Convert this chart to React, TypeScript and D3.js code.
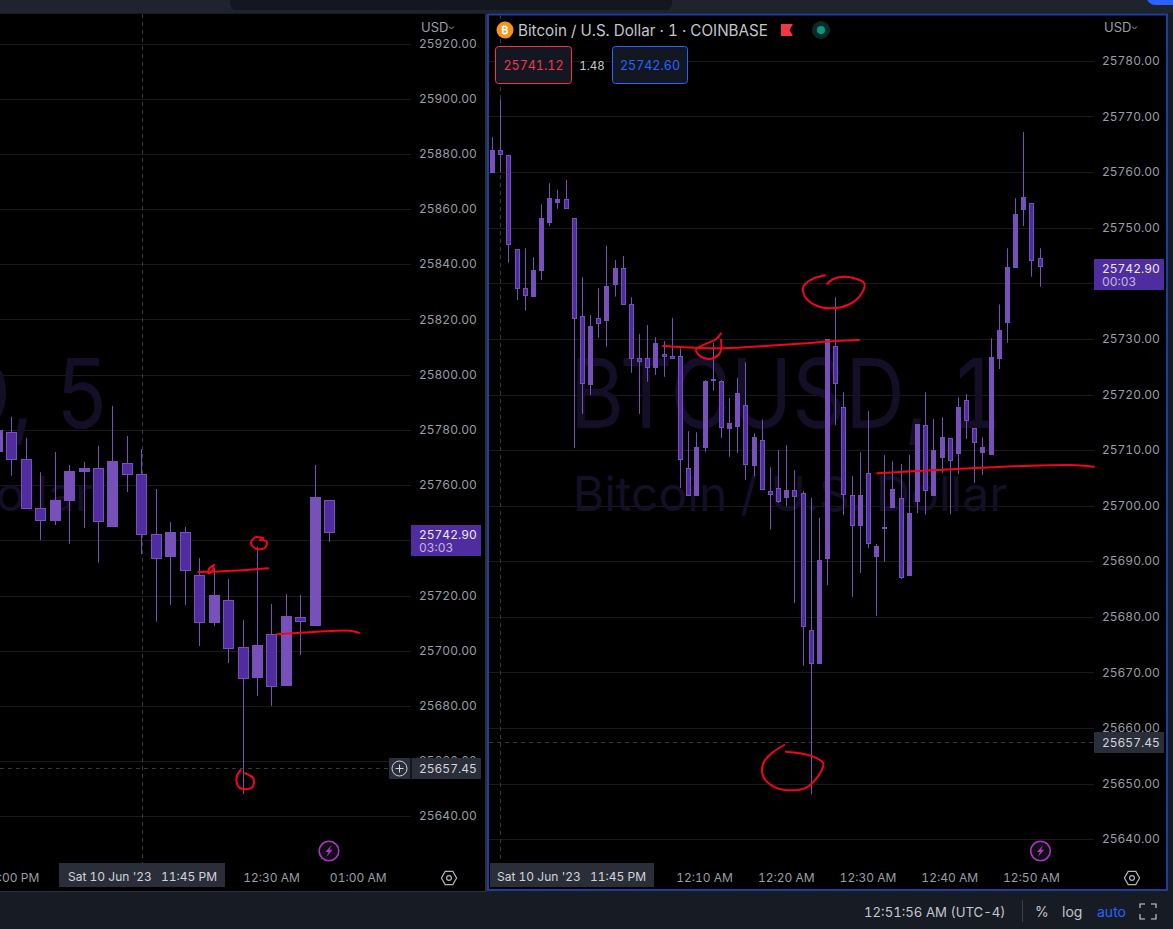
import React from "react";
import * as d3 from "d3";

// ---------- 1-minute pane ----------
const oneHigh = [25766.3,25773.1,25763.1,25746.1,25746.3,25744.7,25754.2,25758.0,25756.8,25758.6,25751.7,25741.1,25734.3,25739.1,25746.7,25744.2,25744.9,25737.5,25730.9,25732.5,25730.3,25729.6,25733.8,25728.3,25713.4,25713.2,25722.6,25729.3,25722.6,25719.4,25723.0,25725.8,25713.0,25715.5,25706.9,25710.0,25710.9,25706.4,25702.6,25701.4,25697.8,25730.0,25737.5,25720.4,25705.3,25709.6,25717.0,25693.1,25709.1,25708.0,25707.5,25709.1,25714.7,25720.4,25715.6,25715.9,25712.1,25719.5,25720.1,25713.9,25712.3,25730.1,25736.2,25746.3,25755.3,25767.2,25754.4,25746.3];
const oneOpen = [25759.9,25764.0,25763.1,25746.1,25739.1,25737.6,25742.3,25750.9,25754.5,25755.1,25751.7,25734.1,25721.7,25733.8,25733.3,25739.7,25742.7,25736.3,25726.5,25726.5,25724.8,25727.2,25726.9,25726.9,25706.8,25701.8,25710.4,25722.4,25722.5,25713.8,25714.2,25718.2,25707.2,25711.9,25702.7,25703.1,25701.3,25702.9,25702.3,25677.6,25671.5,25690.4,25728.8,25717.7,25702.0,25696.4,25705.8,25690.8,25695.9,25699.6,25701.3,25687.4,25700.7,25714.6,25701.8,25708.6,25712.1,25709.3,25719.1,25713.9,25709.5,25709.2,25726.4,25732.9,25742.8,25753.1,25754.4,25744.5];
const oneClose = [25764.0,25763.1,25746.9,25739.0,25737.8,25742.4,25751.7,25755.3,25755.1,25753.4,25733.5,25721.8,25732.3,25732.6,25739.5,25742.7,25736.1,25726.4,25725.9,25724.8,25729.2,25726.8,25726.4,25708.3,25701.8,25710.5,25722.4,25722.8,25713.9,25714.8,25720.2,25707.3,25712.3,25702.9,25701.9,25700.7,25702.9,25701.6,25678.1,25671.6,25690.2,25730.0,25721.9,25702.0,25696.4,25702.0,25693.2,25692.7,25696.2,25703.0,25687.0,25698.7,25714.7,25702.7,25710.0,25712.3,25708.1,25717.7,25715.3,25711.3,25710.5,25726.7,25731.6,25742.9,25752.4,25755.5,25744.0,25742.9];
const oneLow = [25759.9,25760.0,25743.7,25737.0,25735.1,25737.6,25740.6,25750.3,25753.4,25753.4,25710.4,25716.5,25719.9,25730.2,25728.6,25737.6,25736.1,25723.9,25716.5,25722.3,25723.5,25723.2,25726.4,25703.2,25701.8,25701.8,25709.7,25720.7,25712.2,25708.8,25709.5,25704.6,25705.3,25702.9,25695.7,25700.5,25699.9,25682.5,25671.2,25648.1,25671.5,25685.7,25714.5,25698.3,25683.6,25687.9,25692.4,25680.2,25689.9,25699.6,25686.8,25687.4,25698.7,25698.4,25701.8,25705.9,25698.5,25705.7,25712.0,25704.1,25705.5,25709.2,25724.6,25729.3,25742.8,25750.3,25741.2,25739.4];

const oneTicks = [25640,25650,25660,25670,25680,25690,25700,25710,25720,25730,25740,25750,25760,25770,25780];
const oneTimeLabels = ["12:10 AM","12:20 AM","12:30 AM","12:40 AM","12:50 AM"];
const oneTimeBars = [26,36,46,56,66];

// ---------- 5-minute pane ----------
const fiveHigh = [25783.6,25784.8,25777.1,25764.7,25772.0,25767.3,25768.4,25774.2,25788.7,25777.8,25773.0,25758.6,25746.6,25744.8,25733.6,25729.8,25726.0,25711.1,25737.6,25716.9,25720.5,25720.2,25767.3,25754.6];
const fiveOpen = [25772.0,25779.1,25769.3,25751.6,25747.1,25754.2,25764.7,25766.1,25744.8,25767.9,25763.9,25742.2,25734.0,25742.9,25727.3,25710.0,25718.3,25701.2,25690.1,25705.9,25687.2,25712.1,25709.0,25754.6];
const fiveClose = [25780.0,25769.2,25751.5,25747.1,25754.6,25765.1,25766.2,25746.8,25768.7,25763.8,25742.0,25733.3,25743.0,25729.0,25710.2,25720.2,25700.7,25689.9,25701.9,25687.0,25712.6,25710.5,25755.7,25742.8];
const fiveLow = [25772.0,25763.4,25751.5,25740.1,25745.5,25738.7,25744.5,25731.9,25744.8,25757.5,25735.0,25710.5,25716.6,25716.6,25701.7,25709.0,25695.5,25648.1,25683.6,25680.0,25687.2,25698.4,25709.0,25739.4];

const fiveTicks = [25640,25660,25680,25700,25720,25740,25760,25780,25800,25820,25840,25860,25880,25900,25920];
const fiveTimeLabels = ["11:00 PM","12:30 AM","01:00 AM"];
const fiveTimeBars = [1,19,25];

const lastPrice = 25742.9;
const lowMark = 25657.45;

// ---------- hand-drawn ink overlay (screen strokes, not data) ----------
const inkStrokes: [number, number][][] = [
  [[663,346],[690,347.5],[719,348.3],[753,346.7],[795,344],[836,341],[859,340]],
  [[721,333.3],[716,339.3],[703,345],[696,350],[701,356.7],[711,358.7],[719.3,354],[721.3,348],[721,340]],
  [[825,275.3],[811.7,279.3],[803.3,286.7],[805,296.7],[815,305],[830,308.3],[850,304],[861.7,293.3],[864.3,283.3],[856.7,279],[845,276.7],[833.3,279],[827.3,283.7]],
  [[877.3,473.3],[936.7,470],[1003,466.7],[1070,465],[1094,466.7]],
  [[784.3,745],[771.7,753.3],[763.3,763.3],[763.3,776.7],[775,787.3],[791.7,790.3],[806.7,787.3],[820,773.3],[823.3,763.3],[813.3,756.7],[800,753.3],[786,751.7]],
  [[198.3,572],[233.3,570.7],[268.3,568.3]],
  [[214.3,565],[209.3,568.3],[208.3,573.3],[213.3,570],[213.3,566.7]],
  [[263.3,538.3],[255,537.3],[251,543.3],[256.7,549],[265,547.7],[266.7,541.7],[260,540]],
  [[276.7,634.3],[316.7,631.7],[350,630.7],[359,632.7]],
  [[240.7,770],[236.7,776.7],[238.3,786.7],[245,789.3],[252.7,786.7],[253.3,778.3],[245,773.3]],
];

const FONT = "Inter, 'Noto Sans', sans-serif";
const BLACK = "#000000";
const FRAME = "#171b24";
const GRID = "#1a1a1a";
const UP = "#7751b9";
const DOWN = "#4f2c9f";
const AXIS_TEXT = "#9a9da6";
const LABEL_BG = "#2a2e39";
const DASH = "#3a3a3a";

type PaneProps = {
  high: number[]; open: number[]; close: number[]; low: number[];
  x: d3.ScaleLinear<number, number>; y: d3.ScaleLinear<number, number>;
  bodyW: number; clipId: string;
};

function Candles({ high, open, close, low, x, y, bodyW, clipId }: PaneProps) {
  return (
    <g clipPath={`url(#${clipId})`}>
      {high.map((h, i) => {
        const cx = Math.round(x(i));
        const top = Math.round(y(Math.max(open[i], close[i])));
        const bot = Math.round(y(Math.min(open[i], close[i])));
        const up = close[i] >= open[i];
        return (
          <g key={i}>
            <line x1={cx + 0.5} x2={cx + 0.5} y1={y(h)} y2={y(low[i])} stroke={UP} strokeWidth={1} />
            <rect x={cx - (bodyW - 1) / 2 + 0.5} y={top + 0.5} width={bodyW - 1} height={Math.max(bot - top - 1, 1)}
              fill={up ? UP : DOWN} stroke={UP} strokeWidth={1} />
          </g>
        );
      })}
    </g>
  );
}

function Gear({ cx, cy }: { cx: number; cy: number }) {
  const pts = d3.range(6).map(k => {
    const a = Math.PI / 3 * k;
    return `${cx + 7.6 * Math.cos(a)},${cy + 7.6 * Math.sin(a)}`;
  }).join(" ");
  return (
    <g fill="none" stroke="#b2b5be" strokeWidth={1.2}>
      <polygon points={pts} />
      <circle cx={cx} cy={cy} r={2.4} />
    </g>
  );
}

function Bolt({ cx, cy }: { cx: number; cy: number }) {
  return (
    <g>
      <circle cx={cx} cy={cy} r={9.8} fill="#120a18" stroke="#a23bb5" strokeWidth={1.6} />
      <polygon transform={`translate(${cx},${cy})`} points="2.5,-6 -3.6,1 -0.6,1 -2.5,6 3.6,-1.2 0.6,-1.2" fill="#a23bb5" />
    </g>
  );
}

function PriceLabel({ x, y, w, text, sub }: { x: number; y: number; w: number; text: string; sub: string }) {
  return (
    <g fontSize={12}>
      <rect x={x} y={y} width={w} height={31} fill={DOWN} />
      <text x={x + 8} y={y + 14} fill="#ece8f6">{text}</text>
      <text x={x + 8} y={y + 27} fill="#c3b5e3">{sub}</text>
    </g>
  );
}

export default function App() {
  const W = 1173, H = 929;
  const oneX = d3.scaleLinear().domain([0, 67]).range([492.0, 1039.6]);
  const oneY = d3.scaleLinear().domain([25640, 25780]).range([839.3, 60.9]);
  const fiveX = d3.scaleLinear().domain([1, 23]).range([11.3, 329.3]);
  const fiveY = d3.scaleLinear().domain([25640, 25920]).range([816.3, 43.5]);
  const ink = d3.line().curve(d3.curveCatmullRom.alpha(0.5));

  const oneLast = oneY(lastPrice), fiveLast = fiveY(lastPrice);
  const oneLowY = Math.round(oneY(lowMark)) + 0.5, fiveLowY = Math.round(fiveY(lowMark)) + 0.5;
  const oneCross = Math.round(oneX(1)) + 0.5, fiveCross = Math.round(fiveX(10)) + 1.5;
  const hiddenTick = 25740; // sits fully under the last-price label

  return (
    <svg width={W} height={H} viewBox={`0 0 ${W} ${H}`}
      style={{ position: "absolute", left: 0, top: 0, display: "block", fontVariantNumeric: "tabular-nums" }} fontFamily={FONT}>
      <defs>
        <clipPath id="paneL"><rect x={0} y={14} width={485} height={877} /></clipPath>
        <clipPath id="paneR"><rect x={489} y={15.5} width={677} height={873.5} /></clipPath>
      </defs>

      {/* frame */}
      <rect width={W} height={H} fill={FRAME} />
      <rect x={0} y={0} width={W} height={13} fill="#1f232e" />
      <rect x={230} y={-8} width={442} height={18} rx={6} fill="#14171f" />
      <rect x={1147} y={-10} width={40} height={15} rx={8} fill="#2962ff" />

      {/* panes */}
      <rect x={0} y={14} width={485} height={877} fill={BLACK} />
      <rect x={485} y={14} width={2} height={878} fill="#2a2e39" />
      <rect x={0} y={891} width={487} height={1} fill="#2a2e39" />
      <rect x={488} y={14.5} width={679} height={875.5} fill={BLACK} />

      {/* left pane */}
      <g clipPath="url(#paneL)">
        {fiveTicks.map(t => (
          <line key={t} x1={0} x2={411} y1={Math.round(fiveY(t)) + 0.5} y2={Math.round(fiveY(t)) + 0.5} stroke={GRID} />
        ))}
        <text x={-324} y={428} fontSize={96} textLength={433} lengthAdjust="spacingAndGlyphs" fill="#140e26">BTCUSD, 5</text>
        <text x={93} y={511} textAnchor="end" fontSize={48} fill="#140e26">Bitcoin / U.S. Dollar</text>
        <line x1={fiveCross} x2={fiveCross} y1={14} y2={863} stroke={DASH} strokeDasharray="4 4" />
        <line x1={0} x2={411} y1={fiveLowY} y2={fiveLowY} stroke={DASH} strokeDasharray="4 4" />
      </g>
      <Candles high={fiveHigh} open={fiveOpen} close={fiveClose} low={fiveLow} x={fiveX} y={fiveY} bodyW={11} clipId="paneL" />

      {/* right pane */}
      <g clipPath="url(#paneR)">
        {oneTicks.map(t => (
          <line key={t} x1={489} x2={1094} y1={Math.round(oneY(t)) + 0.5} y2={Math.round(oneY(t)) + 0.5} stroke={GRID} />
        ))}
        <text x={570} y={428} fontSize={96} textLength={433} lengthAdjust="spacingAndGlyphs" fill="#140e26">BTCUSD, 1</text>
        <text x={790} y={511} textAnchor="middle" fontSize={48} fill="#140e26">Bitcoin / U.S. Dollar</text>
        <line x1={oneCross} x2={oneCross} y1={15} y2={863} stroke={DASH} strokeDasharray="4 4" />
        <line x1={489} x2={1094} y1={oneLowY} y2={oneLowY} stroke={DASH} strokeDasharray="4 4" />
      </g>
      <Candles high={oneHigh} open={oneOpen} close={oneClose} low={oneLow} x={oneX} y={oneY} bodyW={5} clipId="paneR" />

      {/* ink */}
      {inkStrokes.map((s, i) => (
        <path key={i} d={ink(s) as string} fill="none" stroke="#f2061f" strokeWidth={2} strokeLinecap="round" strokeLinejoin="round" />
      ))}

      {/* blue focus border */}
      <rect x={488} y={14.5} width={679} height={875.5} fill="none" stroke="#1c3f9e" strokeWidth={2} />

      {/* price axes */}
      <g fontSize={12} fill={AXIS_TEXT} dominantBaseline="central">
        {fiveTicks.filter(t => t !== hiddenTick).map(t => <text key={t} x={419} y={fiveY(t) - 0.5}>{t.toFixed(2)}</text>)}
        {oneTicks.filter(t => t !== hiddenTick).map(t => <text key={t} x={1102} y={oneY(t) - 0.5}>{t.toFixed(2)}</text>)}
      </g>
      <g fontSize={13} fill={AXIS_TEXT}>
        <text x={421} y={32}>USD</text>
        <text x={1104} y={32}>USD</text>
      </g>
      <g fill="none" stroke={AXIS_TEXT} strokeWidth={1}>
        <path d="M449,26.5 l2.5,2.5 l2.5,-2.5" />
        <path d="M1132,26.5 l2.5,2.5 l2.5,-2.5" />
      </g>

      <PriceLabel x={411} y={Math.round(fiveLast) - 7} w={70} text={lastPrice.toFixed(2)} sub="03:03" />
      <PriceLabel x={1094} y={Math.round(oneLast) - 8} w={70} text={lastPrice.toFixed(2)} sub="00:03" />

      {/* low marker labels */}
      <rect x={389} y={fiveLowY - 10.5} width={92} height={21} rx={1} fill={LABEL_BG} />
      <line x1={411} x2={411} y1={fiveLowY - 10.5} y2={fiveLowY + 10.5} stroke={BLACK} />
      <g fill="none" stroke="#d1d4dc" strokeWidth={1}>
        <circle cx={399.5} cy={fiveLowY} r={7.5} />
        <path d={`M395.5,${fiveLowY} h8 M399.5,${fiveLowY - 4} v8`} />
      </g>
      <text x={419} y={fiveLowY} dominantBaseline="central" fontSize={12} fill="#d1d4dc">{lowMark.toFixed(2)}</text>
      <rect x={1094} y={oneLowY - 10.5} width={70} height={21} rx={1} fill={LABEL_BG} />
      <text x={1102} y={oneLowY} dominantBaseline="central" fontSize={12} fill="#d1d4dc">{lowMark.toFixed(2)}</text>

      {/* time axes */}
      <g fontSize={12} fill={AXIS_TEXT} textAnchor="middle">
        {fiveTimeLabels.map((l, i) => (
          <text key={l} x={fiveX(fiveTimeBars[i])} y={882}>{l}</text>
        ))}
        {oneTimeLabels.map((l, i) => (
          <text key={l} x={oneX(oneTimeBars[i])} y={882}>{l}</text>
        ))}
      </g>
      <g fontSize={12} fill="#d1d4dc">
        <rect x={59} y={863} width={166} height={24} fill={LABEL_BG} />
        <text x={68} y={881}>Sat 10 Jun '23</text>
        <text x={161} y={881}>11:45 PM</text>
        <rect x={490} y={863} width={164} height={24} fill={LABEL_BG} />
        <text x={497} y={881}>Sat 10 Jun '23</text>
        <text x={590} y={881}>11:45 PM</text>
      </g>

      <Gear cx={449} cy={878} />
      <Gear cx={1132} cy={878} />
      <Bolt cx={329} cy={851} />
      <Bolt cx={1040.5} cy={851} />

      {/* legend */}
      <circle cx={505} cy={30} r={8.5} fill="#f7931a" />
      <text x={505} y={34} textAnchor="middle" fontSize={11} fontWeight={700} fill="#fff">₿</text>
      <text x={518} y={36} fontSize={15.2} fill="#c3c6ce">Bitcoin / U.S. Dollar · 1 · COINBASE</text>
      <polygon points="781,24 793,24 789.5,30 793,36 781,36" fill="#f23645" />
      <circle cx={821} cy={30} r={9} fill="#0a2a27" />
      <circle cx={821} cy={30} r={4} fill="#089981" />

      <g fontSize={12.5} textAnchor="middle">
        <rect x={495.5} y={46.5} width={76} height={37} rx={3} fill="#131722" stroke="#f23645" />
        <text x={533.5} y={70} fill="#f23645">25741.12</text>
        <text x={592} y={70} fontSize={11.5} fill="#c8cad0">1.48</text>
        <rect x={612.5} y={46.5} width={75} height={37} rx={3} fill="#131722" stroke="#2962ff" />
        <text x={650} y={70} fill="#2962ff">25742.60</text>
      </g>

      {/* bottom bar */}
      <g fontSize={13.2}>
        <text x={864} y={917} fill="#c3c6ce">12:51:56 AM (UTC-4)</text>
        <line x1={1022.5} x2={1022.5} y1={900} y2={922} stroke="#3a3e49" />
        <text x={1035} y={917} fontSize={14} fill="#c3c6ce">%</text>
        <text x={1062} y={917} fontSize={14} fill="#c3c6ce">log</text>
        <text x={1097} y={917} fontSize={14} fill="#2962ff">auto</text>
      </g>
      <path d="M1140,908 v-4 h5 M1151,904 h5 v4 M1156,914 v5 h-5 M1145,919 h-5 v-5" fill="none" stroke="#d1d4dc" strokeWidth={1.1} />
    </svg>
  );
}
